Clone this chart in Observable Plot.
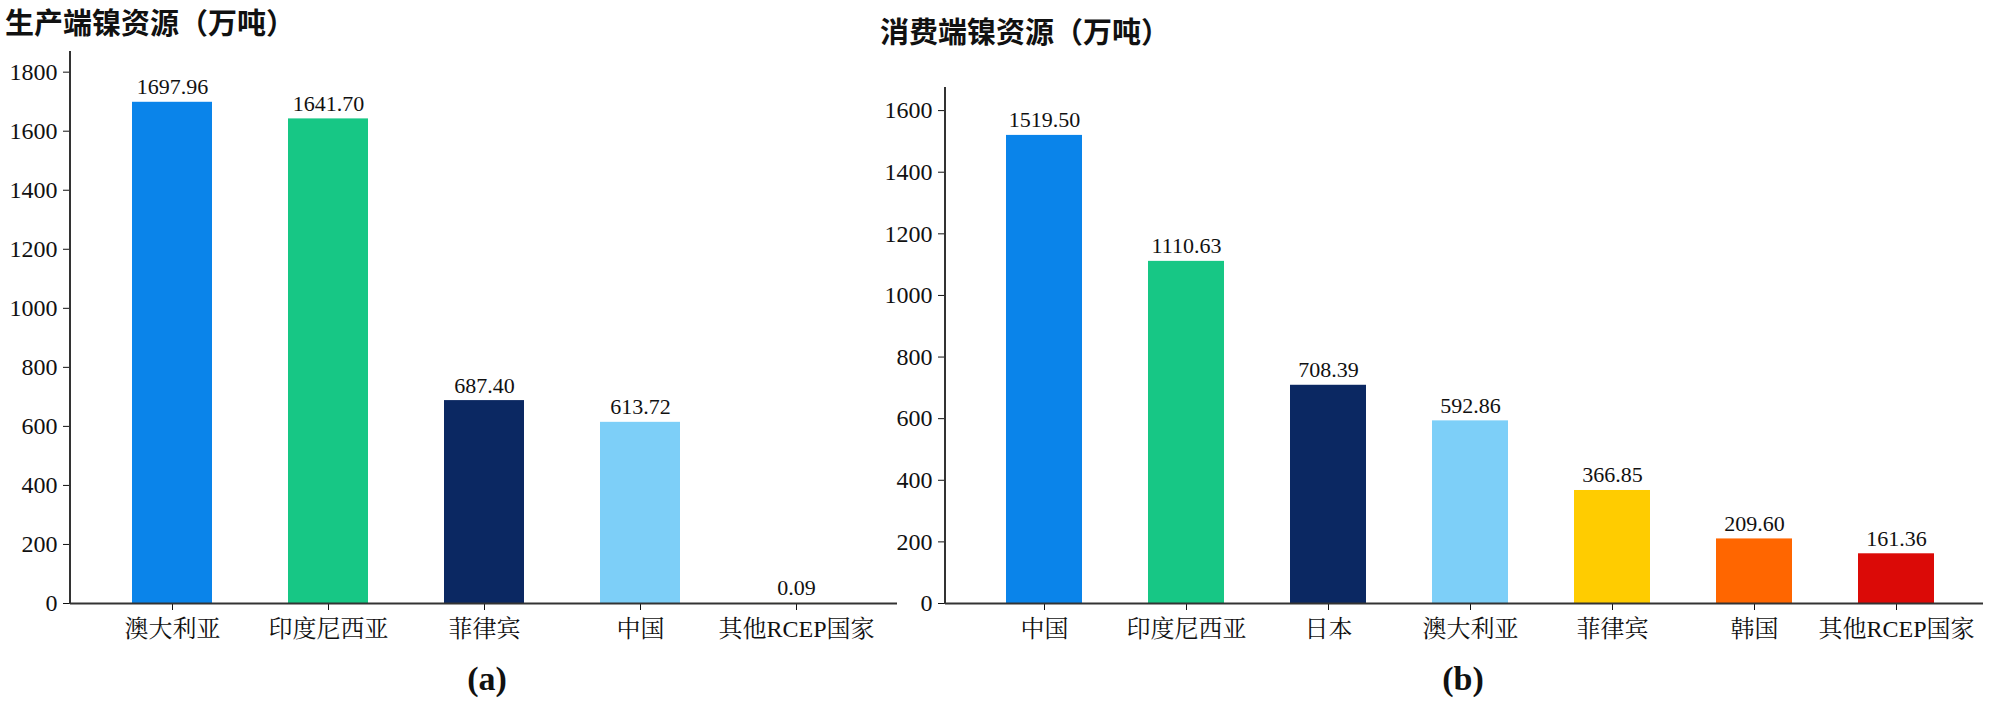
<!DOCTYPE html>
<html>
<head>
<meta charset="utf-8">
<script src="https://cdn.jsdelivr.net/npm/d3@7"></script>
<script src="https://cdn.jsdelivr.net/npm/@observablehq/plot@0.6"></script>
<style>
  html, body { margin: 0; padding: 0; background: #fff; }
  #root { position: relative; width: 2000px; height: 703px; overflow: hidden; background: #fff; }
  .panel { position: absolute; top: 0; }
  .title { position: absolute; font-family: "Noto Sans CJK SC", sans-serif; font-weight: 700; font-size: 29px; line-height: 42px; color: #111; white-space: nowrap; }
  .sub { position: absolute; font-family: "Liberation Serif", serif; font-weight: 700; font-size: 34px; line-height: 34px; color: #111; transform: translateX(-50%); white-space: nowrap; }
</style>
</head>
<body>
<div id="root">
  <div class="title" style="left:5px; top:0px;">生产端镍资源（万吨）</div>
  <div class="title" style="left:880px; top:9px;">消费端镍资源（万吨）</div>
  <div id="left" class="panel" style="left:0px;"></div>
  <div id="right" class="panel" style="left:900px;"></div>
  <div class="sub" style="left:487px; top:662px;">(a)</div>
  <div class="sub" style="left:1463px; top:662px;">(b)</div>
</div>
<script>
// ---- data ----
const prodCategories = ["澳大利亚", "印度尼西亚", "菲律宾", "中国", "其他RCEP国家"];
const prodValues = [1697.96, 1641.70, 687.40, 613.72, 0.09];
const prodTicks = [0, 200, 400, 600, 800, 1000, 1200, 1400, 1600, 1800];

const consCategories = ["中国", "印度尼西亚", "日本", "澳大利亚", "菲律宾", "韩国", "其他RCEP国家"];
const consValues = [1519.50, 1110.63, 708.39, 592.86, 366.85, 209.60, 161.36];
const consTicks = [0, 200, 400, 600, 800, 1000, 1200, 1400, 1600];

const palette = ["#0A84EA", "#17C785", "#0B2862", "#7DCFF8", "#FFCC00", "#FF6600", "#DB0A07"];

const axisColor = "#333";
const fontStack = "'Liberation Serif', 'Noto Serif CJK SC', 'Noto Sans CJK SC', serif";

function yAxisLine(index, scales, values, dims) {
  const l = document.createElementNS("http://www.w3.org/2000/svg", "line");
  l.setAttribute("x1", dims.marginLeft);
  l.setAttribute("x2", dims.marginLeft);
  l.setAttribute("y1", dims.marginTop);
  l.setAttribute("y2", dims.height - dims.marginBottom + 1);
  l.setAttribute("stroke", axisColor);
  l.setAttribute("stroke-width", 2);
  return l;
}

function chart(cats, vals, ticks, opts) {
  const data = cats.map((c, i) => ({cat: c, val: vals[i], color: palette[i]}));
  return Plot.plot({
    width: opts.width,
    height: opts.height,
    marginLeft: opts.marginLeft,
    marginRight: opts.marginRight,
    marginTop: opts.marginTop,
    marginBottom: opts.marginBottom,
    style: {fontFamily: fontStack, fontSize: "24px", color: "#111", background: "transparent", overflow: "visible"},
    x: {domain: cats, paddingInner: opts.pi, paddingOuter: opts.po, align: opts.align, label: null, tickSize: 7, tickPadding: 9},
    y: {domain: [0, opts.yMax], ticks: ticks, tickFormat: d => String(d), label: null, tickSize: 7, tickPadding: 6},
    color: {type: "identity"},
    marks: [
      Plot.barY(data, {x: "cat", y: "val", fill: "color"}),
      Plot.text(data, {x: "cat", y: "val", text: d => d.val.toFixed(2), dy: -8, lineAnchor: "bottom", fontSize: 22, fill: "#111"}),
      Plot.ruleY([0], {stroke: axisColor, strokeWidth: 2}),
      yAxisLine
    ]
  });
}

const left = chart(prodCategories, prodValues, prodTicks, {
  width: 900, height: 660, marginLeft: 70, marginRight: 3, marginTop: 51, marginBottom: 57,
  yMax: 1870, pi: 0.489, po: 0.387, align: 0.5
});
document.getElementById("left").appendChild(left);

const right = chart(consCategories, consValues, consTicks, {
  width: 1100, height: 660, marginLeft: 45, marginRight: 17, marginTop: 87, marginBottom: 57,
  yMax: 1675, pi: 0.468, po: 0.366, align: 0.553
});
document.getElementById("right").appendChild(right);
</script>
</body>
</html>
